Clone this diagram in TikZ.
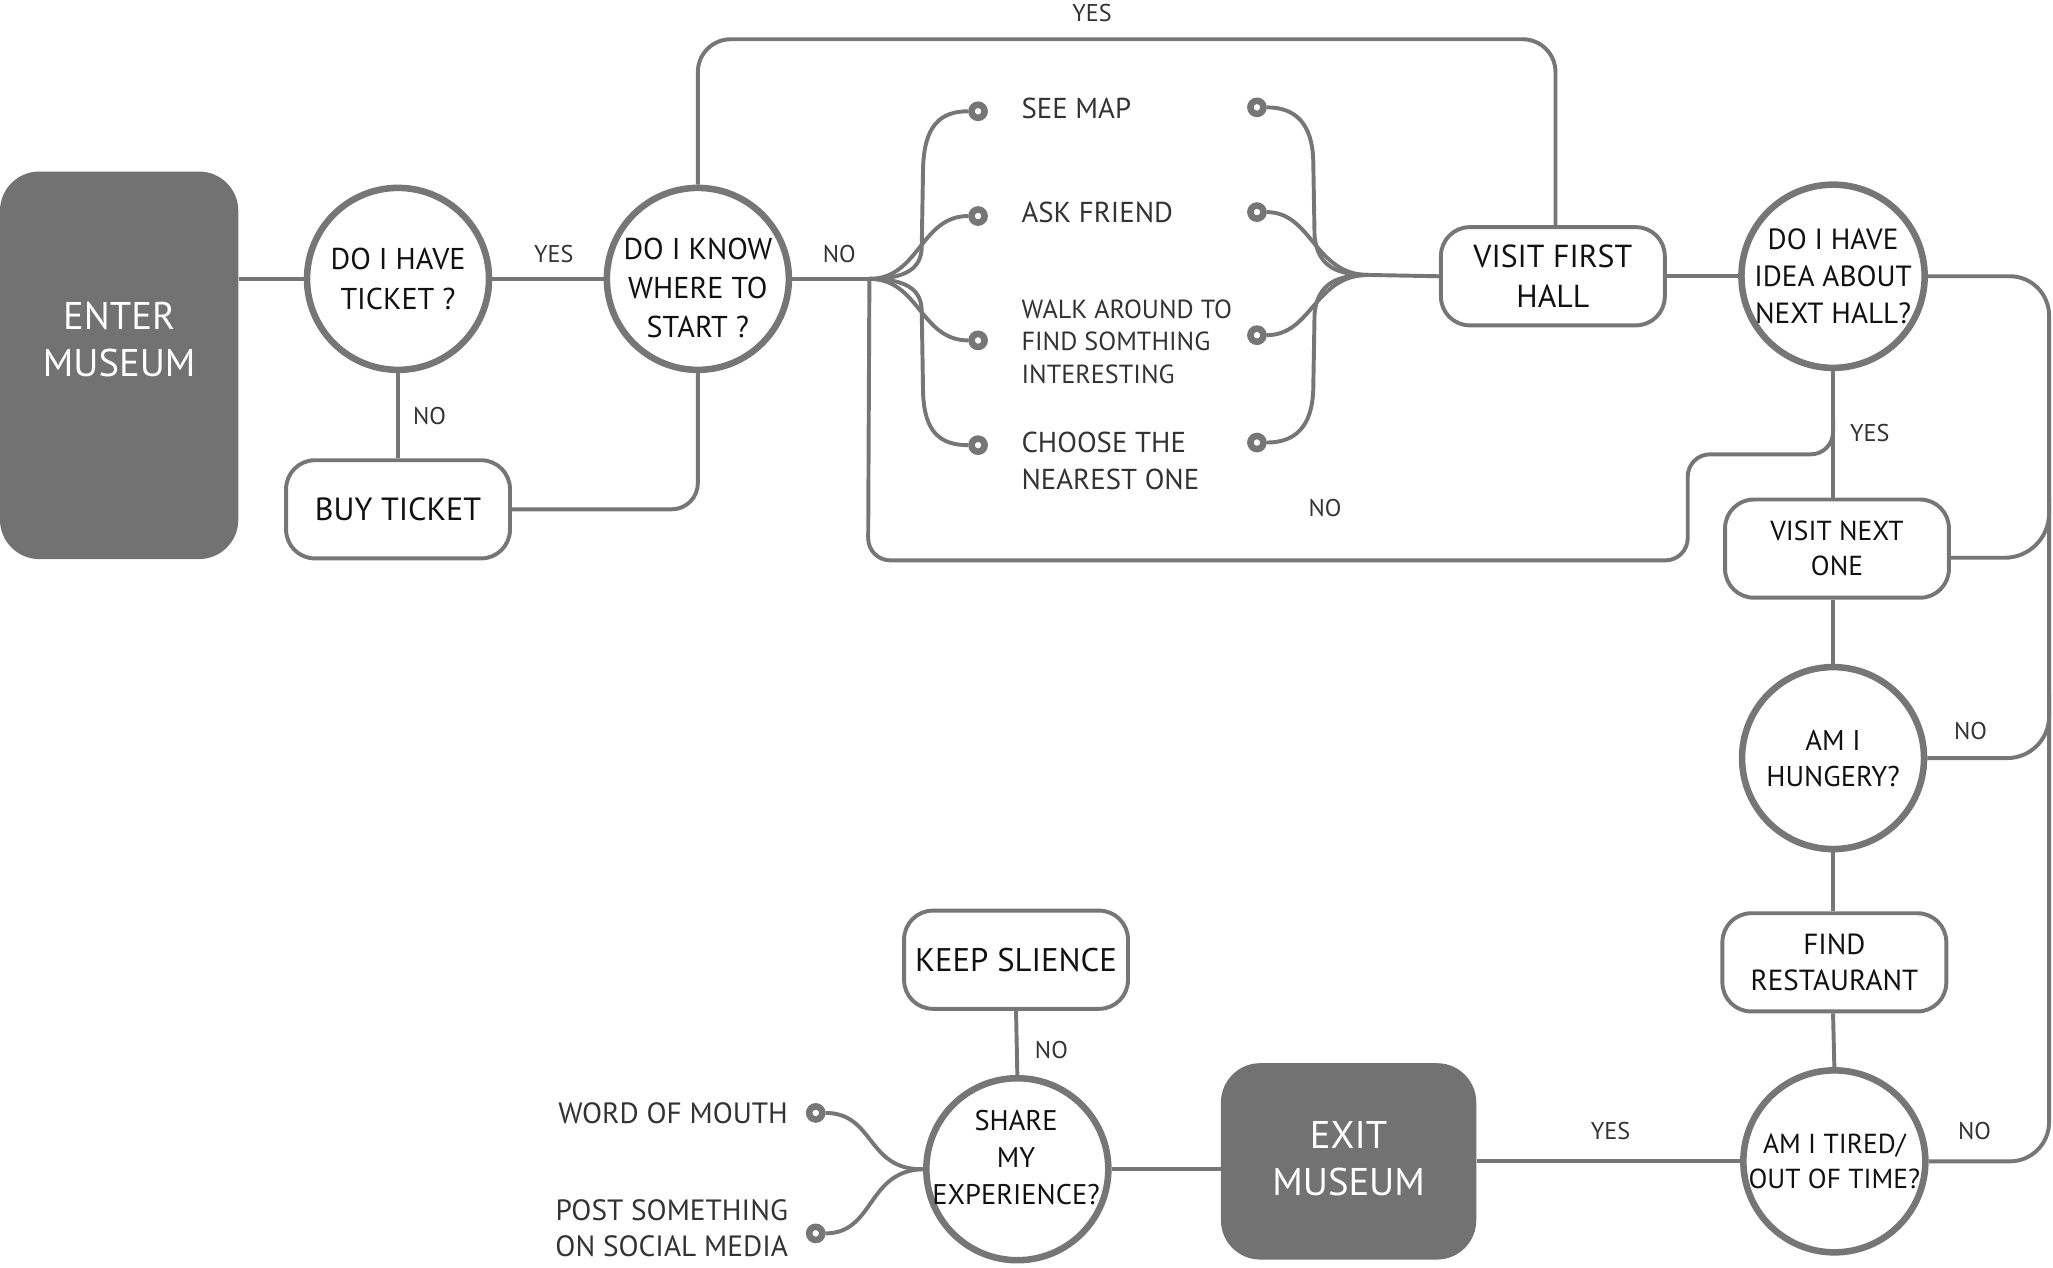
\documentclass[tikz,border=0pt]{standalone}
\usepackage{fontspec}
\setmainfont{PT Sans}
\definecolor{lc}{HTML}{767676}
\definecolor{dk}{HTML}{727272}
\definecolor{tx}{HTML}{111111}
\definecolor{lb}{HTML}{333333}
\newcommand{\fs}[2]{\fontsize{#1}{#2}\selectfont}
\begin{document}
\begin{tikzpicture}[x=1pt,y=-1pt,
  ln/.style={draw=lc,line width=3pt},
  circ/.style={circle,draw=lc,line width=5pt,fill=white,minimum size=139pt,inner sep=0pt,align=center,text=tx,font=\fs{22}{28}},
  box/.style={rounded corners=22pt,draw=lc,line width=3pt,fill=white,minimum width=171pt,minimum height=75pt,inner sep=0pt,align=center,text=tx,font=\fs{22}{29}},
  darkbox/.style={rounded corners=30pt,fill=dk,inner sep=0pt},
  wtext/.style={text=white,align=center,font=\fs{29.5}{36}},
  ctext/.style={text=tx,align=center,inner sep=0pt},
  lab/.style={text=lb,font=\fs{18.5}{20},inner sep=0pt},
  opt/.style={text=lb,anchor=west,align=left,inner sep=0pt,font=\fs{22}{28}},
  dotn/.style={circle,draw=lc,line width=5pt,fill=white,minimum size=10pt,inner sep=0pt}]
\useasboundingbox (0,0) rectangle (1568,968);

% main nodes
\node[darkbox,minimum width=182pt,minimum height=296pt] (enter) at (91,279) {};
\node[wtext] (entert) at (91,259) {ENTER\\MUSEUM};
\node[circ,font=\fs{23}{30}] (c1) at (304,213) {DO I HAVE\\TICKET ?};
\node[circ] (c2) at (533,213) {};
\node[ctext,font=\fs{23}{29.5}] (c2t) at (533,220) {DO I KNOW\\WHERE TO\\START ?};
\node[box,font=\fs{24.5}{30}] (buy) at (304,389) {BUY TICKET};
\node[box,font=\fs{24.3}{31}] (vfh) at (1186,211) {VISIT FIRST\\HALL};
\node[circ,font=\fs{22.3}{28}] (c3) at (1400,211) {DO I HAVE\\IDEA ABOUT\\NEXT HALL?};
\node[box,font=\fs{21}{27}] (vno) at (1403,419) {VISIT NEXT\\ONE};
\node[circ,font=\fs{21.8}{27.5}] (c4) at (1400,579) {AM I\\HUNGERY?};
\node[box,font=\fs{22.2}{28}] (find) at (1401,735) {FIND\\RESTAURANT};
\node[circ,font=\fs{21}{27}] (c5) at (1401,887) {AM I TIRED/\\OUT OF TIME?};
\node[darkbox,minimum width=195pt,minimum height=150pt] (exit) at (1030,887) {};
\node[wtext] (exitt) at (1030,885) {EXIT\\MUSEUM};
\node[circ] (c6) at (777,893) {};
\node[ctext,font=\fs{21.7}{28}] (c6t) at (776,884) {SHARE\\MY\\EXPERIENCE?};
\node[box,font=\fs{25}{30}] (ks) at (776,733) {KEEP SLIENCE};

% fan dots
\node[dotn] (l1) at (747,85) {};
\node[dotn] (l2) at (747,165) {};
\node[dotn] (l3) at (747,260) {};
\node[dotn] (l4) at (747,340) {};
\node[dotn] (r1) at (960,82) {};
\node[dotn] (r2) at (960,162) {};
\node[dotn] (r3) at (960,256) {};
\node[dotn] (r4) at (960,338) {};
\node[dotn] (w1) at (623,850) {};
\node[dotn] (w2) at (623,942) {};

% option texts
\node[opt] (t1) at (780,83) {SEE MAP};
\node[opt] (t2) at (780,162) {ASK FRIEND};
\node[opt,font=\fs{20}{25}] (t3) at (780,261) {WALK AROUND TO\\FIND SOMTHING\\INTERESTING};
\node[opt] (t4) at (780,352) {CHOOSE THE\\NEAREST ONE};
\node[opt,anchor=east,align=right,font=\fs{22.4}{28}] (t5) at (602,850) {WORD OF MOUTH};
\node[opt,anchor=east,align=right,font=\fs{22.4}{28}] (t6) at (602,938) {POST SOMETHING\\ON SOCIAL MEDIA};

\coordinate (jL) at (664,213);
\coordinate (jR) at (1045,210);

% connectors
\draw[ln] (enter.east |- c1.west) -- (c1.west);
\draw[ln] (c1.east) -- (c2.west);
\draw[ln] (c1.south) -- (buy.north);
\draw[ln,rounded corners=20pt] (buy.east) -- (533,389) -- (c2.south);
\draw[ln,rounded corners=25pt] (c2.north) -- (533,30) -- (1188,30) -- (1188,172);
\draw[ln] (c2.east) -- (jL);
\draw[ln,rounded corners=17pt] (jL) -- (663,428) -- (1289,428) -- (1289,347) -- (1400,347) -- (1400,320);
\draw[ln] (jR) -- (vfh.west);
\draw[ln] (vfh.east) -- (c3.west);
\draw[ln] (c3.south) -- (c3.south |- vno.north);
\draw[ln] (c3.south |- vno.south) -- (c4.north);
\draw[ln] (c4.south) -- (c4.south |- find.north);
\draw[ln] (c4.south |- find.south) -- (c5.north);
\draw[ln,rounded corners=30pt] (c3.east) -- (1565,211) -- (1565,887) -- (c5.east);
\draw[ln,rounded corners=34pt] ([yshift=-7pt]vno.east) -- (1565,426) -- (1565,380);
\draw[ln,rounded corners=32pt] (c4.east) -- (1565,579) -- (1565,530);
\draw[ln] (c5.west) -- (exit.east |- c5.west);
\draw[ln] (exit.west |- c6.east) -- (c6.east);
\draw[ln] (c6.north) -- (ks.south);

% left fan
\draw[ln] (jL) .. controls (692,213) and (704,205) .. (704,188) -- (705,128) .. controls (706,96) and (718,85) .. (l1.west);
\draw[ln] (jL) .. controls (702,213) and (703,165) .. (l2.west);
\draw[ln] (jL) .. controls (702,213) and (703,260) .. (l3.west);
\draw[ln] (jL) .. controls (692,213) and (704,221) .. (704,238) -- (705,300) .. controls (706,330) and (718,340) .. (l4.west);
% right fan
\draw[ln] (r1.east) .. controls (990,82) and (1002,95) .. (1003,122) -- (1004,180) .. controls (1006,204) and (1022,210) .. (jR);
\draw[ln] (r2.east) .. controls (1002,162) and (1004,210) .. (jR);
\draw[ln] (r3.east) .. controls (1002,256) and (1004,210) .. (jR);
\draw[ln] (r4.east) .. controls (990,338) and (1002,325) .. (1003,298) -- (1004,240) .. controls (1006,216) and (1022,210) .. (jR);
% bottom fan
\draw[ln] (w1.east) .. controls (668,850) and (662,894) .. (c6.west);
\draw[ln] (w2.east) .. controls (668,942) and (662,894) .. (c6.west);

% labels
\node[lab] (y1) at (423,194) {YES};
\node[lab] (n1) at (328,318) {NO};
\node[lab] (n2) at (641,194) {NO};
\node[lab] (y2) at (834,10) {YES};
\node[lab] (n3) at (1012,388) {NO};
\node[lab] (y3) at (1428,331) {YES};
\node[lab] (n4) at (1505,558) {NO};
\node[lab] (n5) at (1508,864) {NO};
\node[lab] (y4) at (1230,864) {YES};
\node[lab] (n6) at (803,802) {NO};
\end{tikzpicture}
\end{document}
